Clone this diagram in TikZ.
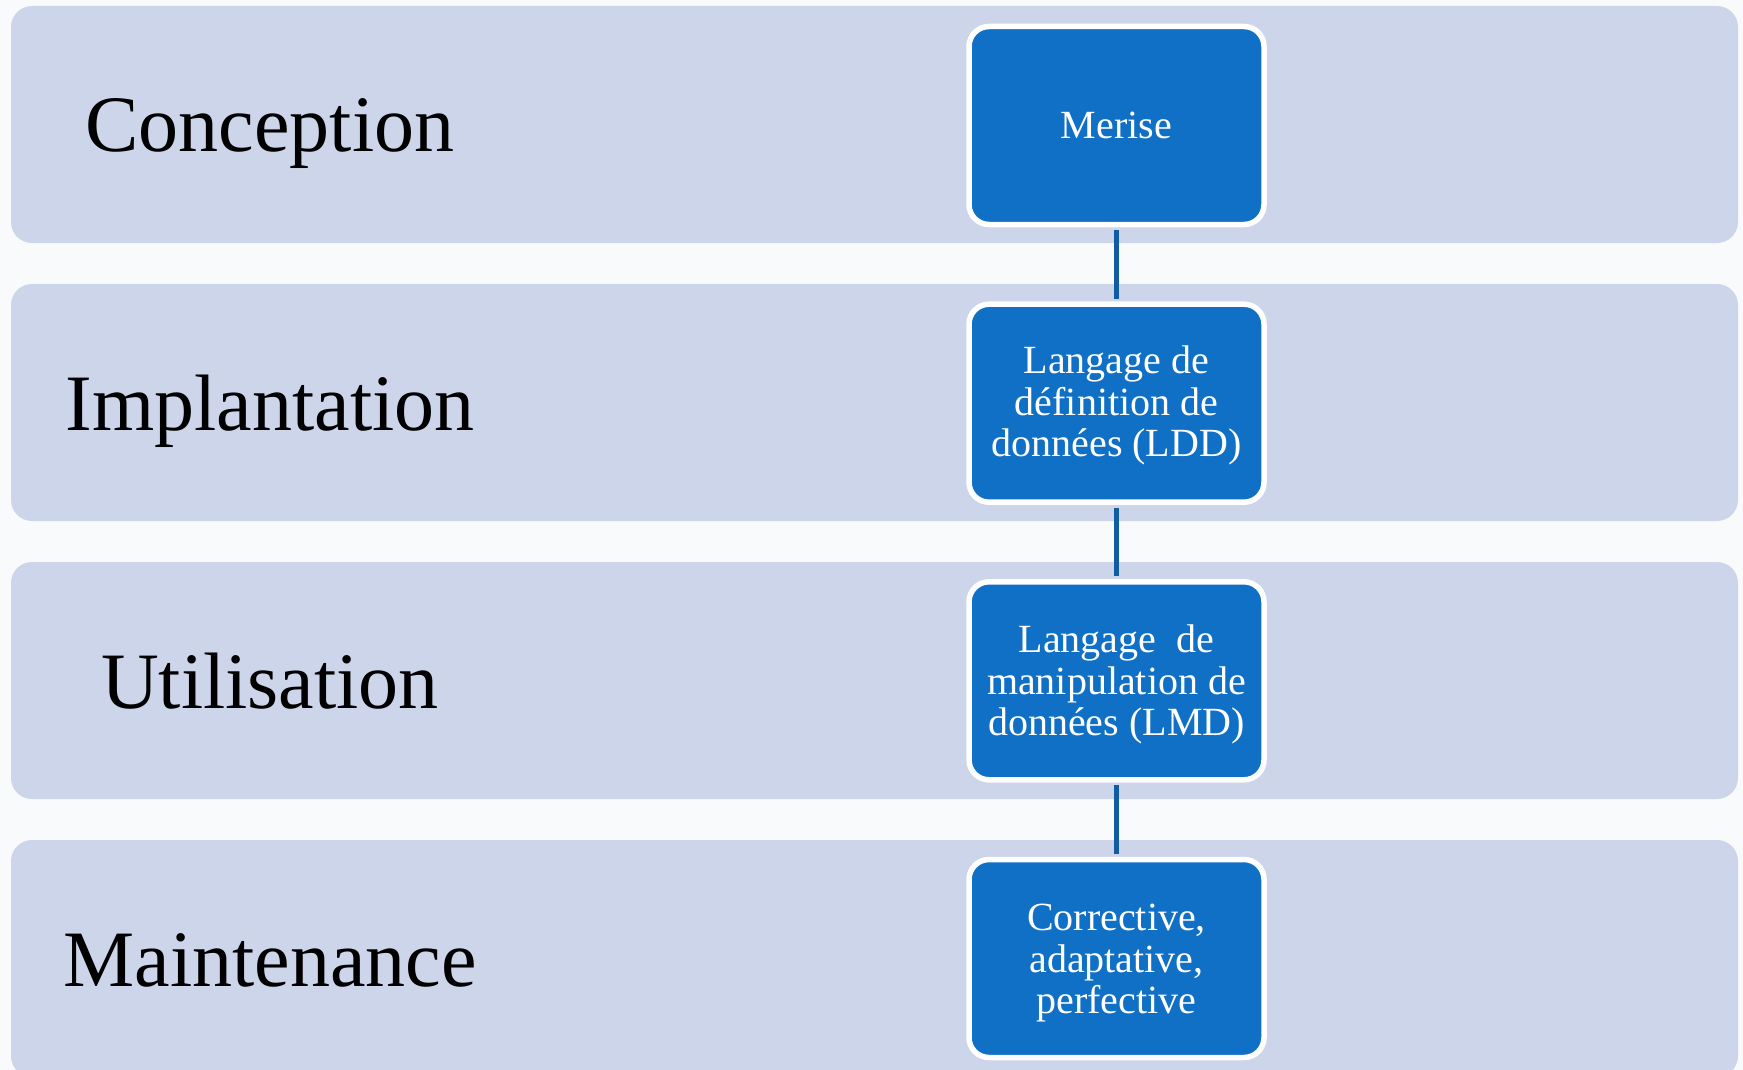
\documentclass[tikz,border=0pt]{standalone}
\usepackage{fontspec}
\setmainfont{Liberation Serif}
\definecolor{bandc}{HTML}{CDD5EA}
\definecolor{boxc}{HTML}{1070C6}
\definecolor{connc}{HTML}{0F5CA3}
\definecolor{paper}{HTML}{F9FAFB}
\newcommand\lowtext[2]{\raisebox{-#1}[\height][\depth]{\begin{tabular}{@{}c@{}}#2\end{tabular}}}
\begin{document}
\begin{tikzpicture}[x=1pt,y=-1pt,
  band/.style={fill=bandc, draw=none, rounded corners=21pt, minimum width=1727pt, minimum height=237pt, inner sep=0pt},
  stage/.style={font=\fontsize{80}{88}\selectfont, anchor=base, inner sep=0pt},
  boxn/.style={fill=boxc, draw=white, line width=5.5pt, rounded corners=20pt, minimum width=295pt, minimum height=198pt, inner sep=0pt, align=center, text=white, font=\fontsize{40}{41.5}\selectfont},
  conn/.style={draw=connc, line width=5pt}]
\clip (0,0) rectangle (1743,1070);
\fill[paper] (0,0) rectangle (1743,1070);
% bands
\node[band] (band1) at (874.5,124.5) {};
\node[band] (band2) at (874.5,402.5) {};
\node[band] (band3) at (874.5,680.5) {};
\node[band] (band4) at (874.5,958.5) {};
% stage labels
\node[stage] (lab1) at (270,152) {Conception};
\node[stage] (lab2) at (270,430) {Implantation};
\node[stage] (lab3) at (270,708) {Utilisation};
\node[stage] (lab4) at (270,986) {Maintenance};
% boxes
\node[boxn] (b1) at (1116.5,125.5) {Merise};
\node[boxn] (b2) at (1116.5,403.2) {\lowtext{3.5pt}{Langage de\\définition de\\données (LDD)}};
\node[boxn] (b3) at (1116.5,680.8) {\lowtext{5pt}{Langage\ \ de\\manipulation de\\données (LMD)}};
\node[boxn] (b4) at (1116.5,958.5) {\lowtext{5.5pt}{Corrective,\\adaptative,\\perfective}};
% connectors
\draw[conn] ([yshift=-2.75pt]b1.south) -- ([yshift=2.75pt]b2.north);
\draw[conn] ([yshift=-2.75pt]b2.south) -- ([yshift=2.75pt]b3.north);
\draw[conn] ([yshift=-2.75pt]b3.south) -- ([yshift=2.75pt]b4.north);
\end{tikzpicture}
\end{document}
